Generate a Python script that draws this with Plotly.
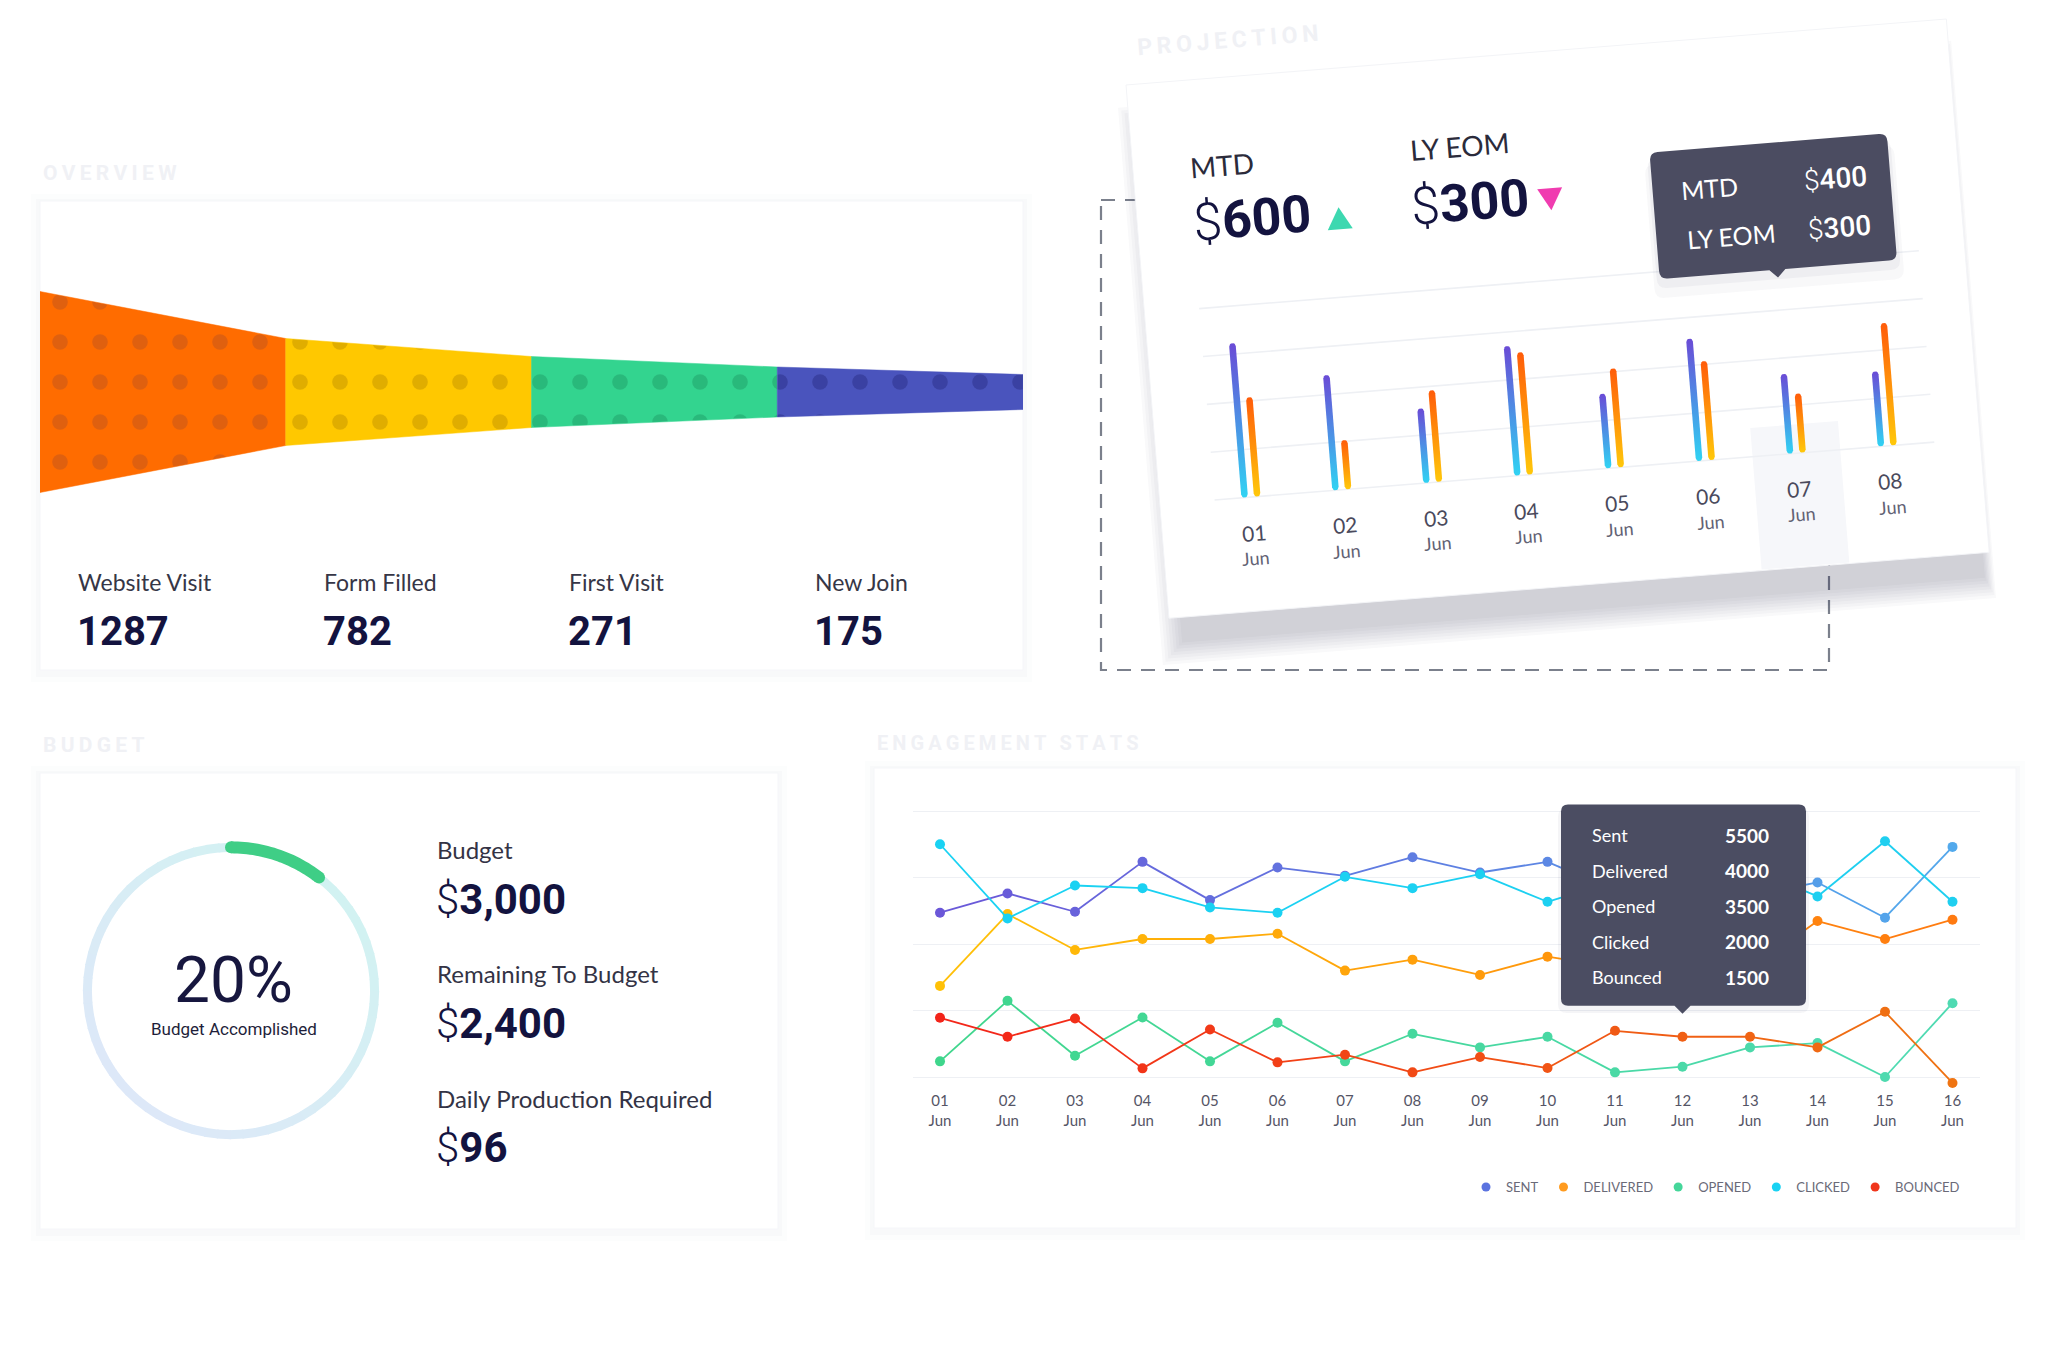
import math
import numpy as np
import plotly.graph_objects as go

W, H = 2048, 1360

# ---------------- data ----------------
funnel_stages = ["Website Visit", "Form Filled", "First Visit", "New Join"]
funnel_counts = [1287, 782, 271, 175]
funnel_band = [201, 107, 71, 50, 35]          # drawn band thickness at each stage boundary

proj_days = ["01", "02", "03", "04", "05", "06", "07", "08"]
proj_month = "Jun"
proj_mtd = [323, 241, 156, 271, 156, 256, 167, 157]
proj_ly_eom = [208, 103, 192, 256, 207, 207, 124, 256]
proj_ticks = [0, 100, 200, 300, 400]
proj_kpi_labels = ["MTD", "LY EOM"]
proj_kpi_values = ["$600", "$300"]
proj_tip_values = ["$400", "$300"]
proj_focus_day = "07"

budget_pct_text = "20%"
budget_caption = "Budget Accomplished"
budget_arc_share = 0.105
budget_labels = ["Budget", "Remaining To Budget", "Daily Production Required"]
budget_values = ["$3,000", "$2,400", "$96"]

eng_days = ["01", "02", "03", "04", "05", "06", "07", "08",
            "09", "10", "11", "12", "13", "14", "15", "16"]
eng_month = "Jun"
eng_sent = [5940, 6520, 5970, 7470, 6320, 7300, 7050, 7610, 7150, 7470, 6600, 6500, 6450, 6850, 5790, 7920]
eng_delivered = [3740, 5900, 4820, 5150, 5150, 5310, 4200, 4530, 4070, 4620, 4300, 4200, 4240, 5690, 5150, 5730]
eng_opened = [1470, 3290, 1640, 2790, 1470, 2630, 1470, 2300, 1890, 2210, 1140, 1310, 1890, 2020, 1000, 3220]
eng_clicked = [8000, 5770, 6760, 6680, 6100, 5940, 7020, 6680, 7100, 6270, 6900, 7100, 7300, 6430, 8090, 6270]
eng_bounced = [2780, 2210, 2760, 1260, 2430, 1440, 1670, 1140, 1600, 1270, 2390, 2210, 2210, 1890, 2960, 820]
eng_ticks = [1000, 3000, 5000, 7000, 9000]
eng_tip_labels = ["Sent", "Delivered", "Opened", "Clicked", "Bounced"]
eng_tip_values = [5500, 4000, 3500, 2000, 1500]
eng_focus_day = "12"

# ---------------- helpers ----------------
def hex2rgb(h):
    h = h.lstrip("#")
    return tuple(int(h[i:i + 2], 16) for i in (0, 2, 4))


def mix(c1, c2, t):
    a, b = hex2rgb(c1), hex2rgb(c2)
    return "#%02x%02x%02x" % tuple(int(round(a[i] + (b[i] - a[i]) * t)) for i in range(3))


ANG = 4.6
TH = math.radians(ANG)
CS, SN = math.cos(TH), math.sin(TH)
PX0, PY0 = 1126.0, 85.0
CARD_U, CARD_V = 823.0, 535.0


def rot(u, v):
    return PX0 + u * CS + v * SN, PY0 - u * SN + v * CS


def ident(u, v):
    return u, v


def poly_path(pts):
    return "M" + " L".join(f"{x:.2f},{y:.2f}" for x, y in pts) + " Z"


def rounded_path(u0, v0, u1, v1, r, tf, tip_u=None, tip=8):
    def P(u, v):
        x, y = tf(u, v)
        return f"{x:.2f},{y:.2f}"
    d = [f"M{P(u0 + r, v0)}", f"L{P(u1 - r, v0)}", f"Q{P(u1, v0)} {P(u1, v0 + r)}",
         f"L{P(u1, v1 - r)}", f"Q{P(u1, v1)} {P(u1 - r, v1)}"]
    if tip_u is not None:
        d += [f"L{P(tip_u + tip, v1)}", f"L{P(tip_u, v1 + tip)}", f"L{P(tip_u - tip, v1)}"]
    d += [f"L{P(u0 + r, v1)}", f"Q{P(u0, v1)} {P(u0, v1 - r)}", f"L{P(u0, v0 + r)}",
          f"Q{P(u0, v0)} {P(u0 + r, v0)}", "Z"]
    return " ".join(d)


LABEL_FONT = "Lato"
NUM_FONT = "Roboto"
NAVY = "#13133f"
WATERMARK = "#f0f1f5"
THIN = "\u2009"

fig = go.Figure()
shapes = []
ann = []


def A(x, y, text, size, color, family=LABEL_FONT, weight=400, xanchor="left", angle=0, **kw):
    ann.append(dict(x=x, y=y, xref="x", yref="y", text=text, showarrow=False,
                    xanchor=xanchor, yanchor="middle", textangle=angle,
                    font=dict(size=size, color=color, family=family, weight=weight), **kw))


def card(x0, y0, x1, y1):
    for e, op in ((9, 0.012), (4, 0.018)):
        shapes.append(dict(type="rect", xref="x", yref="y", x0=x0 - e, y0=y0 - e + 2, x1=x1 + e, y1=y1 + e + 3,
                           fillcolor=f"rgba(40,50,90,{op})", line=dict(width=0), layer="below"))
    shapes.append(dict(type="rect", xref="x", yref="y", x0=x0, y0=y0, x1=x1, y1=y1,
                       fillcolor="white", line=dict(color="#f5f6f9", width=1), layer="below"))


def dollar(v):
    return f"<span style='font-weight:300'>$</span>{v[1:]}"


# ---------------- cards ----------------
card(40, 201, 1023, 670)      # overview
card(40, 773, 778, 1229)      # budget
card(874, 768, 2016, 1228)    # engagement

# dashed frame behind projection card
shapes.append(dict(type="rect", xref="x", yref="y", x0=1101, y0=200, x1=1829, y1=670,
                   line=dict(color="#7b808c", width=2.2, dash="14px,10px"),
                   fillcolor="rgba(0,0,0,0)", layer="below"))

# projection card shadow + card
for k in range(1, 9):
    e = 3.0 * k
    pts = [rot(-e + 14, -e + 24), rot(CARD_U + 0.45 * e - 8, -e + 24),
           rot(CARD_U + 0.45 * e - 8, CARD_V + e), rot(-e + 14, CARD_V + e)]
    pts = [(x + 2, y + 22) for x, y in pts]
    shapes.append(dict(type="path", xref="x", yref="y", path=poly_path(pts),
                       fillcolor="rgba(50,50,70,0.026)", line=dict(width=0), layer="below"))
shapes.append(dict(type="path", xref="x", yref="y",
                   path=poly_path([rot(0, 0), rot(CARD_U, 0), rot(CARD_U, CARD_V), rot(0, CARD_V)]),
                   fillcolor="white", line=dict(color="#f3f4f7", width=1), layer="below"))

# ---------------- projection chart (tilted card) ----------------
U_FIRST, U_STEP, PAIR_OFF, BAR_R = 91.5, 91.2, 6.3, 3.3
V_BASE, PX_PER_UNIT = 420.8, 0.48
GRID_U0, GRID_U1 = 55, 777

fi = proj_days.index(proj_focus_day)
fu = U_FIRST + U_STEP * fi
shapes.append(dict(type="path", xref="x", yref="y",
                   path=poly_path([rot(fu - 44, 392), rot(fu + 44, 392), rot(fu + 44, CARD_V - 1), rot(fu - 44, CARD_V - 1)]),
                   fillcolor="#f6f7fa", line=dict(width=0), layer="below"))

for t in proj_ticks:
    v = V_BASE - t * PX_PER_UNIT
    (x0, y0), (x1, y1) = rot(GRID_U0, v), rot(GRID_U1, v)
    fig.add_trace(go.Scatter(x=[x0, x1], y=[y0, y1], mode="lines",
                             line=dict(color="#eef0f4", width=1.6), hoverinfo="skip", showlegend=False))

MTD_TOP, MTD_BOT = "#6a4bd6", "#30d3f3"
LY_TOP, LY_BOT = "#ff5c0a", "#ffc80a"
cap = np.linspace(0, math.pi, 9)
for i in range(len(proj_days)):
    for val, off, ctop, cbot in ((proj_mtd[i], -PAIR_OFF, MTD_TOP, MTD_BOT),
                                 (proj_ly_eom[i], PAIR_OFF, LY_TOP, LY_BOT)):
        uc = U_FIRST + U_STEP * i + off
        vt = V_BASE - val * PX_PER_UNIT
        loc = [(uc - BAR_R * math.cos(a), vt + BAR_R - BAR_R * math.sin(a)) for a in cap]
        loc += [(uc + BAR_R * math.cos(a), V_BASE - BAR_R + BAR_R * math.sin(a)) for a in cap]
        pts = [rot(u, v) for u, v in loc]
        xs = [p[0] for p in pts] + [pts[0][0]]
        ys = [p[1] for p in pts] + [pts[0][1]]
        fig.add_trace(go.Scatter(
            x=xs, y=ys, mode="lines", fill="toself", line=dict(width=0, color=cbot),
            fillgradient=dict(type="vertical", colorscale=[[0, ctop], [1, cbot]],
                              start=min(ys), stop=max(ys)),
            hoverinfo="skip", showlegend=False))

for i, d in enumerate(proj_days):
    uc = U_FIRST + U_STEP * i
    x, y = rot(uc, 456)
    A(x, y, d, 21, "#4a4a5c", xanchor="center", angle=-ANG)
    x, y = rot(uc, 482)
    A(x, y, proj_month, 18, "#626274", xanchor="center", angle=-ANG)

# KPI texts
x, y = rot(89.3, 87.4); A(x, y, proj_kpi_labels[0], 28, "#2b2b3b", xanchor="center", angle=-ANG)
x, y = rot(114.9, 142.7); A(x, y, dollar(proj_kpi_values[0]), 52, NAVY, NUM_FONT, 700, xanchor="center", angle=-ANG)
x, y = rot(328, 87.6); A(x, y, proj_kpi_labels[1], 28, "#2b2b3b", xanchor="center", angle=-ANG)
x, y = rot(333.4, 145.2); A(x, y, dollar(proj_kpi_values[1]), 52, NAVY, NUM_FONT, 700, xanchor="center", angle=-ANG)
shapes.append(dict(type="path", xref="x", yref="y",
                   path=poly_path([rot(189.5, 161), rot(214.5, 161), rot(202, 139)]),
                   fillcolor="#3dd8b0", line=dict(width=0), layer="above"))
shapes.append(dict(type="path", xref="x", yref="y",
                   path=poly_path([rot(401.5, 137), rot(426.5, 137), rot(414, 159)]),
                   fillcolor="#f03cb0", line=dict(width=0), layer="above"))

# projection tooltip
for k, op in ((12, 0.035), (6, 0.05)):
    shapes.append(dict(type="path", xref="x", yref="y",
                       path=rounded_path(516.4 - k / 2, 109.3 + k, 754.5 + k / 2, 236.2 + k * 1.6, 10, rot),
                       fillcolor=f"rgba(60,60,90,{op})", line=dict(width=0), layer="above"))
shapes.append(dict(type="path", xref="x", yref="y",
                   path=rounded_path(516.4, 109.3, 754.5, 236.2, 8, rot, tip_u=634.5, tip=8),
                   fillcolor="#4b4c61", line=dict(width=0), layer="above"))
x, y = rot(572.9, 149); A(x, y, proj_kpi_labels[0], 25, "white", xanchor="center", angle=-ANG)
x, y = rot(700.2, 150.2); A(x, y, dollar(proj_tip_values[0]), 28, "white", NUM_FONT, 500, xanchor="center", angle=-ANG)
x, y = rot(591, 198.7); A(x, y, proj_kpi_labels[1], 25, "white", xanchor="center", angle=-ANG)
x, y = rot(699.3, 199.4); A(x, y, dollar(proj_tip_values[1]), 28, "white", NUM_FONT, 500, xanchor="center", angle=-ANG)
x, y = rot(105, -36)
A(x, y, THIN.join("PROJECTION"), 23, WATERMARK, NUM_FONT, 700, xanchor="center", angle=-ANG)

# ---------------- overview funnel ----------------
funnel_colors = ["#ff6c00", "#ffc800", "#33d48f", "#4a54bd"]
funnel_dots = ["#df600f", "#e0ad00", "#29b97b", "#3a41a2"]
for i in range(len(funnel_stages)):
    a, b = funnel_band[i] / 2, funnel_band[i + 1] / 2
    fig.add_trace(go.Scatter(
        x=[i, i + 1, i + 1, i, i], y=[a, b, -b, -a, a], mode="lines", fill="toself",
        line=dict(width=0.5, color=funnel_colors[i]), fillcolor=funnel_colors[i],
        fillpattern=dict(shape=".", fgcolor=funnel_dots[i], bgcolor=funnel_colors[i],
                         size=40, solidity=0.12, fillmode="replace"),
        xaxis="x3", yaxis="y3", hoverinfo="skip", showlegend=False))

A(41, 173, THIN.join("OVERVIEW"), 21, WATERMARK, NUM_FONT, 700)
for i, (s, c) in enumerate(zip(funnel_stages, funnel_counts)):
    x = 76 + 245.7 * i
    A(x, 582, s, 23, "#363646")
    A(x - 1, 631, f"{c}", 40, NAVY, NUM_FONT, 700)

# ---------------- budget gauge ----------------
seg = 5
for t0 in range(0, 360, seg):
    mid = t0 + seg / 2
    tt = (1 - math.cos(math.radians(mid - 45))) / 2
    fig.add_trace(go.Scatterpolar(r=[1, 1], theta=[t0, t0 + seg + 0.6], mode="lines",
                                  line=dict(color=mix("#d2f2f2", "#dde8f8", tt), width=9),
                                  subplot="polar", hoverinfo="skip", showlegend=False))
arc_end = 360 * budget_arc_share
fig.add_trace(go.Scatterpolar(r=[1] * 30, theta=list(np.linspace(0, arc_end, 30)), mode="lines",
                              line=dict(color="#3fce86", width=12), subplot="polar",
                              hoverinfo="skip", showlegend=False))
fig.add_trace(go.Scatterpolar(r=[1, 1], theta=[0, arc_end], mode="markers",
                              marker=dict(color="#3fce86", size=12), subplot="polar",
                              hoverinfo="skip", showlegend=False))

A(41, 745, THIN.join("BUDGET"), 21, WATERMARK, NUM_FONT, 700)
A(233, 980, budget_pct_text, 64, "#17173f", NUM_FONT, 400, xanchor="center")
A(234, 1029, budget_caption, 17, "#1e1e3a", NUM_FONT, 400, xanchor="center")
for i, (l, v) in enumerate(zip(budget_labels, budget_values)):
    A(435, 849 + 124.5 * i, l, 24, "#333345")
    A(434, 899 + 124 * i, dollar(v), 42, NAVY, NUM_FONT, 700)

# ---------------- engagement stats ----------------
ei = eng_days.index(eng_focus_day)
shapes.append(dict(type="rect", xref="x2", yref="paper", x0=ei - 0.44, x1=ei + 0.44,
                   y0=(H - 1144) / H, y1=(H - 1045) / H, fillcolor="#f6f7fa",
                   line=dict(width=0), layer="below"))

series = [
    ("SENT", eng_sent, "#6b57d8", "#52a9ec", "#5b73e0"),
    ("DELIVERED", eng_delivered, "#ffc107", "#ff7a10", "#ff9b1f"),
    ("OPENED", eng_opened, "#3fd68c", "#4fdab2", "#45d69a"),
    ("CLICKED", eng_clicked, "#19d2f3", "#1fcff0", "#19d2f3"),
    ("BOUNCED", eng_bounced, "#f3241a", "#ef7412", "#f0361c"),
]
xi = list(range(len(eng_days)))
n = len(eng_days) - 1
for name, vals, c0, c1, cl in series:
    for i in range(n):
        fig.add_trace(go.Scatter(x=[xi[i], xi[i + 1]], y=[vals[i], vals[i + 1]], mode="lines",
                                 line=dict(color=mix(c0, c1, (i + 0.5) / n), width=1.8),
                                 xaxis="x2", yaxis="y2", hoverinfo="skip", showlegend=False))
    fig.add_trace(go.Scatter(x=xi, y=vals, mode="markers",
                             marker=dict(size=10, color=[mix(c0, c1, i / n) for i in xi]),
                             xaxis="x2", yaxis="y2", hoverinfo="skip", showlegend=False))
for name, vals, c0, c1, cl in series:
    fig.add_trace(go.Scatter(x=[None], y=[None], mode="markers", name=name,
                             marker=dict(size=9, color=cl), xaxis="x2", yaxis="y2"))

# engagement tooltip
tip_x = 913 + (ei + 0.4) * 67.5
shapes.append(dict(type="path", xref="x", yref="y",
                   path=rounded_path(1558, 808, 1809, 1013, 9, ident),
                   fillcolor="rgba(60,60,90,0.05)", line=dict(width=0), layer="above"))
shapes.append(dict(type="path", xref="x", yref="y",
                   path=rounded_path(1561, 804.5, 1806, 1005.7, 7, ident, tip_u=tip_x, tip=8),
                   fillcolor="#4b4d62", line=dict(width=0), layer="above"))
for i, (l, v) in enumerate(zip(eng_tip_labels, eng_tip_values)):
    yy = 835 + 35.6 * i
    A(1589.5, yy, l, 18, "white")
    A(1771, yy, f"{v}", 19, "white", LABEL_FONT, 700, xanchor="right")

A(875, 743, THIN.join("ENGAGEMENT STATS"), 20, WATERMARK, NUM_FONT, 700)

# ---------------- layout ----------------
X2_DOM = [913 / W, 1980 / W]
Y2_DOM = [(H - 1090.3) / H, (H - 797.7) / H]

fig.update_layout(
    width=W, height=H, margin=dict(l=0, r=0, t=0, b=0),
    paper_bgcolor="white", plot_bgcolor="rgba(0,0,0,0)",
    hovermode=False,
    xaxis=dict(domain=[0, 1], range=[0, W], visible=False, fixedrange=True),
    yaxis=dict(domain=[0, 1], range=[H, 0], visible=False, fixedrange=True),
    xaxis2=dict(domain=X2_DOM, anchor="y2", range=[-0.4, 15.4074], tickmode="array",
                tickvals=xi, ticktext=[f"{d}<br>{eng_month}" for d in eng_days],
                showgrid=False, zeroline=False, showline=False, ticks="",
                tickfont=dict(family=LABEL_FONT, size=15, color="#555566"), fixedrange=True),
    yaxis2=dict(domain=Y2_DOM, anchor="x2", range=[600, 9400], tickmode="array",
                tickvals=eng_ticks, showticklabels=False, showgrid=True,
                gridcolor="#eef0f4", gridwidth=1.3, zeroline=False, showline=False, fixedrange=True),
    xaxis3=dict(domain=[40 / W, 1023 / W], anchor="y3", range=[0, 4], visible=False, fixedrange=True),
    yaxis3=dict(domain=[(H - 502) / H, (H - 282) / H], anchor="x3", range=[-110, 110],
                visible=False, fixedrange=True),
    polar=dict(domain=dict(x=[73 / W, 389 / W], y=[211 / H, 527 / H]),
               bgcolor="rgba(0,0,0,0)",
               radialaxis=dict(visible=False, range=[0, 1.1]),
               angularaxis=dict(visible=False, rotation=90, direction="clockwise")),
    showlegend=True,
    legend=dict(orientation="h", x=1965 / W, xanchor="right", y=(H - 1187) / H, yanchor="middle",
                font=dict(family=LABEL_FONT, size=13, color="#6a6a78"), itemwidth=30,
                bgcolor="rgba(0,0,0,0)", traceorder="normal"),
    shapes=shapes,
    annotations=ann,
)

fig.write_html("out.html")
